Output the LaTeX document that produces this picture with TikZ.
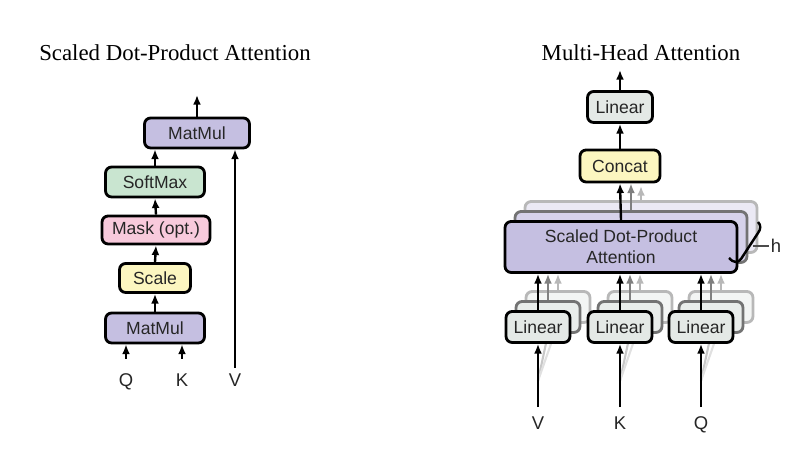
\documentclass[tikz,border=0pt]{standalone}
\usepackage{fontspec}
\setmainfont{Liberation Serif}
\setsansfont{Liberation Sans}
\usetikzlibrary{arrows.meta,backgrounds}

% box colours
\definecolor{mmpurple}{RGB}{197,191,225}
\definecolor{smgreen}{RGB}{201,229,208}
\definecolor{mkpink}{RGB}{248,202,220}
\definecolor{scyellow}{RGB}{252,246,192}
\definecolor{lingray}{RGB}{228,233,230}

\tikzset{
  blk/.style={draw=black, line width=1.6pt, rounded corners=3.5pt, inner sep=0pt,
    minimum height=0.6cm, text=black!85, align=center,
    font=\sffamily\fontsize{10}{12}\selectfont},
  shadowB/.style={blk, draw=black!55, fill=#1},
  shadowC/.style={blk, draw=black!28, fill=#1},
  arr/.style={-{Latex[length=5.5pt,width=4.5pt]}, line width=1.35pt},
  arrB/.style={arr, draw=black!50},
  arrC/.style={arr, draw=black!28},
  lbl/.style={inner sep=3pt, text height=7.6pt, text depth=0pt, text=black!85,
    font=\sffamily\fontsize{10.5}{12}\selectfont},
  ttl/.style={font=\fontsize{13}{15}\selectfont}
}

\begin{document}
\begin{tikzpicture}[x=0.02cm, y=-0.02cm]

    % Fix the frame to the reference size
    \useasboundingbox (0,0) rectangle (789,475);

    % Titles
    \node[ttl] (ttlA) at (175,53) {Scaled Dot-Product Attention};
    \node[ttl] (ttlB) at (641,53) {Multi-Head Attention};

    % ---------- Scaled Dot-Product Attention ----------
    \node[blk, fill=mmpurple, minimum width=1.98cm] (mmA) at (155,328) {MatMul};
    \node[blk, fill=scyellow, minimum width=1.42cm, minimum height=0.58cm] (scl) at (155,278) {Scale};
    \node[blk, fill=mkpink, minimum width=2.16cm, minimum height=0.56cm] (msk) at (156,230) {Mask (opt.)};
    \node[blk, fill=smgreen, minimum width=1.98cm] (smx) at (155,182) {SoftMax};
    \node[blk, fill=mmpurple, minimum width=2.1cm] (mmB) at (197,133) {MatMul};
    \coordinate (outA) at (197,95);

    % Inputs
    \node[lbl] (qA) at (126,380) {Q};
    \node[lbl] (kA) at (182,380) {K};
    \node[lbl] (vA) at (235,380) {V};

    \draw[arr] ([yshift=5pt]qA.north) -- (qA.north |- mmA.south);
    \draw[arr] ([yshift=5pt]kA.north) -- (kA.north |- mmA.south);
    \draw[arr] (vA.north) -- (vA.north |- mmB.south);
    \draw[arr] (mmA.north) -- (scl.south);
    \draw[arr] (scl.north) -- (msk.south);
    \draw[arr] (msk.north) -- (smx.south);
    \draw[arr] (smx.north) -- (smx.north |- mmB.south);
    \draw[arr] (mmB.north) -- (outA);

    % ---------- Multi-Head Attention ----------
    % stacked copies of the attention block
    \node[shadowC=mmpurple!35, minimum width=4.64cm, minimum height=1.02cm] (sdpa3) at (641,227) {};
    \node[shadowB=mmpurple!70, minimum width=4.64cm, minimum height=1.02cm] (sdpa2) at (631,237) {};

    % stacked copies of the linear layers
    \foreach \x/\n in {538/v,620/k,701/q} {
      \node[shadowC=lingray!45, minimum width=1.28cm, minimum height=0.62cm] (lin\n3) at (\x+20,307) {};
      \node[shadowB=lingray!80, minimum width=1.28cm, minimum height=0.62cm] (lin\n2) at (\x+10,317) {};
    }
    \foreach \x/\n in {538/v,620/k,701/q} {
      \node[blk, fill=lingray, minimum width=1.28cm, minimum height=0.62cm] (lin\n) at (\x,327) {Linear};
    }

    \node[blk, fill=mmpurple, minimum width=4.64cm, minimum height=1.02cm] (sdpa) at (621,247)
      {Scaled Dot-Product\\Attention};
    \node[blk, fill=scyellow, minimum width=1.6cm, minimum height=0.64cm] (cat) at (620,166) {Concat};
    \node[blk, fill=lingray, minimum width=1.3cm, minimum height=0.62cm] (linO) at (620,107) {Linear};
    \coordinate (outB) at (620,70);

    % Inputs
    \node[lbl] (inv) at (538,423) {V};
    \node[lbl] (ink) at (620,423) {K};
    \node[lbl] (inq) at (701,423) {Q};

    % faint feeds into the copies
    \begin{pgfonlayer}{background}
      \foreach \n in {v,k,q} {
        \draw[black!22, line width=1.2pt] ([yshift=17pt]in\n.north) -- (lin\n2.south);
        \draw[black!12, line width=1.2pt] ([yshift=17pt]in\n.north) -- (lin\n3.south);
      }
    \end{pgfonlayer}

    \foreach \n in {v,k,q} {
      \draw[arr] ([yshift=2pt]in\n.north) -- (lin\n.south);
      \draw[arrC] (lin\n3.north) -- (lin\n3.north |- sdpa.south);
      \draw[arrB] (lin\n2.north) -- (lin\n2.north |- sdpa.south);
      \draw[arr] (lin\n.north) -- (lin\n.north |- sdpa.south);
    }

    \draw[arrC] (sdpa3.north) -- ([yshift=-1.5pt]sdpa3.north |- cat.south);
    \draw[arrB] (sdpa2.north) -- (sdpa2.north |- cat.south);
    \draw[arr] (sdpa.north) -- (cat.south);
    \draw[arr] (cat.north) -- (linO.south);
    \draw[arr] (linO.north) -- (outB);

    % head count marker
    \draw[line width=1.4pt] (729,258) .. controls (733,263) and (738,263) .. (741,259)
      -- (758,233) .. controls (761,229) and (761,225) .. (758,222);
    \node[lbl, inner sep=1pt] (hB) at (776,246) {h};
    \draw[line width=1pt, black!70] (hB.west) -- ++(-16,0);

\end{tikzpicture}
\end{document}
